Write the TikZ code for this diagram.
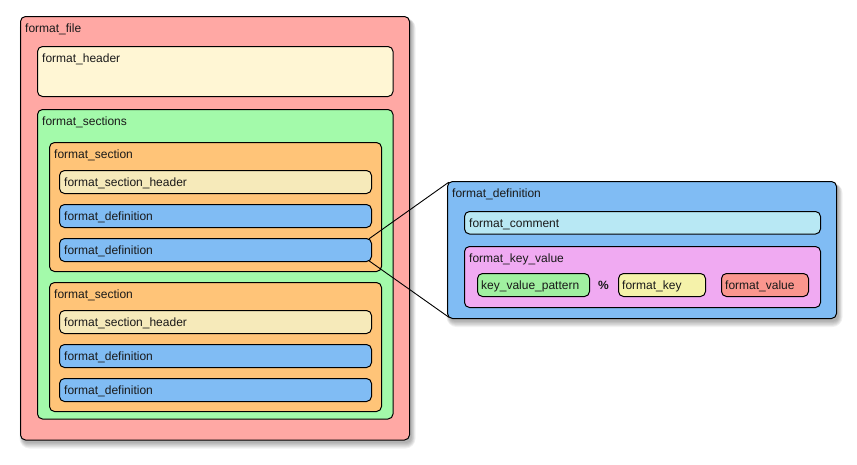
\documentclass[tikz,border=0pt]{standalone}
\usepackage{fontspec}
\setmainfont{Liberation Sans}
\usetikzlibrary{fit,calc}
\definecolor{cfile}{RGB}{255,168,164}
\definecolor{cheader}{RGB}{255,246,212}
\definecolor{csections}{RGB}{163,250,170}
\definecolor{csection}{RGB}{255,196,120}
\definecolor{csecheader}{RGB}{246,234,186}
\definecolor{cdef}{RGB}{128,188,244}
\definecolor{ccomment}{RGB}{184,232,244}
\definecolor{ckv}{RGB}{240,170,242}
\definecolor{ckvp}{RGB}{160,240,160}
\definecolor{ckey}{RGB}{245,242,170}
\definecolor{cval}{RGB}{250,150,142}
\tikzset{
  bx/.style={draw=black, line width=1pt, rounded corners=5pt, inner sep=0pt},
  lbl/.style={anchor=base west, inner sep=0pt, font=\fontsize{12}{14}\selectfont, text=black!90},
  conn/.style={draw=black, line width=0.9pt},
}
\newcommand{\mkshadow}[4]{%
  \foreach \i in {0,...,5}{%
    \fill[black, opacity=0.055, rounded corners=5pt+\i pt]
      ($(#1,#2)+(2-\i*0.6,3-\i*0.3)$) rectangle ($(#3,#4)+(2+\i*0.8,3+\i*1.1)$);
  }%
}
\begin{document}
\begin{tikzpicture}[x=1pt,y=-1pt]
\useasboundingbox (0,0) rectangle (857,464);
\fill[white] (0,0) rectangle (857,464);
% shadows
\mkshadow{20.5}{16.5}{409.5}{440}
\mkshadow{447.5}{181.5}{836.5}{318.5}
% left structure
\node[bx, fill=cfile, fit={(20.5,16.5) (409.5,440)}] (file) {};
\node[lbl] (file-l) at ($(file.north west)+(5,16.5)$) {format\_file};
\node[bx, fill=cheader, fit={(37.5,46.5) (393,96.5)}] (header) {};
\node[lbl] (header-l) at ($(header.north west)+(5,16.5)$) {format\_header};
\node[bx, fill=csections, fit={(37.5,109.5) (393,419)}] (sections) {};
\node[lbl] (sections-l) at ($(sections.north west)+(5,16.5)$) {format\_sections};
% section 1
\node[bx, fill=csection, fit={(49.5,142.5) (381.5,271.5)}] (sec1) {};
\node[lbl] (sec1-l) at ($(sec1.north west)+(5,16.5)$) {format\_section};
\node[bx, fill=csecheader, fit={(59.5,170.5) (371.5,193.5)}] (sh1) {};
\node[lbl] (sh1-l) at ($(sh1.west)+(5,4.3)$) {format\_section\_header};
\node[bx, fill=cdef, fit={(59.5,204.5) (371.5,227.5)}] (d1a) {};
\node[lbl] (d1a-l) at ($(d1a.west)+(5,4.3)$) {format\_definition};
\node[bx, fill=cdef, fit={(59.5,238.5) (371.5,261.5)}] (d1b) {};
\node[lbl] (d1b-l) at ($(d1b.west)+(5,4.3)$) {format\_definition};
% section 2
\node[bx, fill=csection, fit={(49.5,282.5) (381.5,411.5)}] (sec2) {};
\node[lbl] (sec2-l) at ($(sec2.north west)+(5,16.5)$) {format\_section};
\node[bx, fill=csecheader, fit={(59.5,310.5) (371.5,333.5)}] (sh2) {};
\node[lbl] (sh2-l) at ($(sh2.west)+(5,4.3)$) {format\_section\_header};
\node[bx, fill=cdef, fit={(59.5,344.5) (371.5,367.5)}] (d2a) {};
\node[lbl] (d2a-l) at ($(d2a.west)+(5,4.3)$) {format\_definition};
\node[bx, fill=cdef, fit={(59.5,378.5) (371.5,401.5)}] (d2b) {};
\node[lbl] (d2b-l) at ($(d2b.west)+(5,4.3)$) {format\_definition};
% right structure
\node[bx, fill=cdef, fit={(447.5,181.5) (836.5,318.5)}] (def) {};
\node[lbl] (def-l) at ($(def.north west)+(5,16.5)$) {format\_definition};
\node[bx, fill=ccomment, fit={(464.5,211.5) (820.5,234)}] (comment) {};
\node[lbl] (comment-l) at ($(comment.west)+(5,4.3)$) {format\_comment};
\node[bx, fill=ckv, fit={(464.5,246.5) (820.5,307.5)}] (kv) {};
\node[lbl] (kv-l) at ($(kv.north west)+(5,16.5)$) {format\_key\_value};
\node[bx, fill=ckvp, fit={(477.5,273.5) (589.5,296.5)}] (kvp) {};
\node[lbl] (kvp-l) at ($(kvp.west)+(4,4.3)$) {key\_value\_pattern};
\node[lbl, anchor=center, font=\fontsize{12}{14}\selectfont\bfseries] (pct) at (603.5,285) {\%};
\node[bx, fill=ckey, fit={(618.5,273.5) (705.5,296.5)}] (key) {};
\node[lbl] (key-l) at ($(key.west)+(4,4.3)$) {format\_key};
\node[bx, fill=cval, fit={(721.5,273.5) (808.5,296.5)}] (val) {};
\node[lbl] (val-l) at ($(val.west)+(4,4.3)$) {format\_value};
% connectors
\coordinate (a1) at ($(d1b.north east)+(-3,0.8)$);
\coordinate (a2) at ($(d1b.south east)+(-3,-1.2)$);
\coordinate (b1) at ($(def.north west)+(1.8,1.2)$);
\coordinate (b2) at ($(def.south west)+(1.8,-1.8)$);
\draw[conn] (a1) -- (b1);
\draw[conn] (a2) -- (b2);
\end{tikzpicture}
\end{document}
